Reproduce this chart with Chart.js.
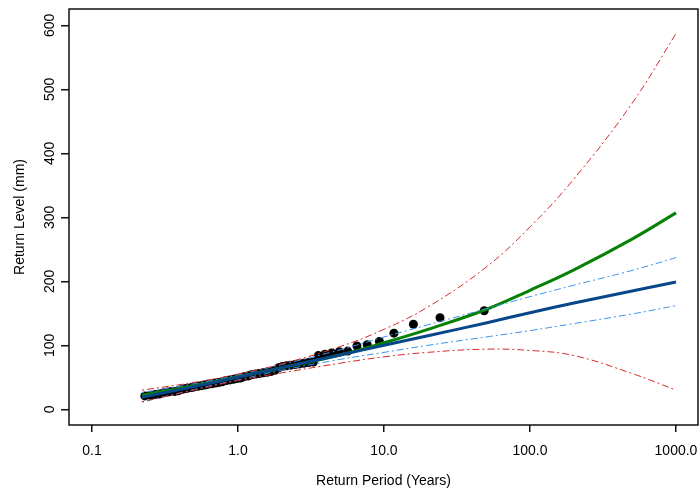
<!DOCTYPE html>
<html>
<head>
<meta charset="utf-8">
<script src="https://cdn.jsdelivr.net/npm/chart.js@4/dist/chart.umd.min.js"></script>
<style>
  body { margin: 0; background: #fff; }
  canvas { display: block; }
</style>
</head>
<body>
<canvas id="chart" width="700" height="494"></canvas>
<script>
// return periods (years) where the fitted curves were read
const periodGrid = [0.22, 0.5, 1, 2, 5, 10, 20, 50, 100, 200, 500, 1000];
// Gumbel fit and its confidence band
const gumbelLevel = [19, 35.5, 50.3, 65.2, 85, 100, 115, 135, 151, 166, 185, 199];
const gumbelUpper = [26, 40, 54, 70, 93, 113, 132, 157, 176, 194, 217, 237];
const gumbelLower = [11, 31, 46, 61, 78, 89, 100, 113, 123, 134, 149, 162];
// GEV fit and its confidence band
const gevLevel = [22, 37, 51, 65, 85, 104, 125, 156, 186, 218, 266, 307];
const gevUpper = [30, 42, 55, 71, 98, 125, 160, 222, 285, 360, 478, 587];
const gevLower = [12, 30, 45, 57, 72, 82, 89, 94, 92, 84, 56, 30];

// observed events (plotting positions)
const obsPeriod = [0.23, 0.25, 0.27, 0.29, 0.31, 0.33, 0.35, 0.37, 0.39, 0.41, 0.43, 0.45, 0.48, 0.50,
  0.53, 0.56, 0.59, 0.62, 0.66, 0.70, 0.74, 0.78, 0.83, 0.88, 0.93, 0.98, 1.04, 1.10, 1.17, 1.24,
  1.32, 1.40, 1.49, 1.58, 1.68, 1.79, 1.90, 2.02, 2.15, 2.30, 2.46, 2.63, 2.82, 3.04, 3.28,
  3.55, 3.94, 4.38, 4.94, 5.64, 6.53, 7.68, 9.3, 11.7, 15.9, 24.2, 48.6];
const obsLevel = [21, 22, 23, 24, 26, 27, 28, 28, 29, 31, 32, 33, 34, 35,
  36, 37, 38, 39, 40, 41, 42, 43, 45, 46, 47, 48, 49, 51, 52, 54,
  55, 56, 57, 58, 59, 61, 65, 67, 68, 69, 70, 71, 72, 73, 74,
  84, 86, 88, 90, 91, 99, 101, 106, 119, 133, 143, 154];

const xTicks = [0.1, 1, 10, 100, 1000];
const xTickLabels = ['0.1', '1.0', '10.0', '100.0', '1000.0'];
const yTicks = [0, 100, 200, 300, 400, 500, 600];
const xTitle = 'Return Period (Years)';
const yTitle = 'Return Level (mm)';

const FONT = '14px "Liberation Sans", Arial, sans-serif';

function pairs(xs, ys) {
    return xs.map((x, i) => ({ x: x, y: ys[i] }));
}

function curve(values, color, width, dash) {
    return {
        type: 'line',
        data: pairs(periodGrid, values),
        borderColor: color,
        borderWidth: width,
        borderDash: dash || [],
        pointRadius: 0,
        fill: false,
        tension: 0.4
    };
}

// 座標軸文字與外框
const axisText = {
    id: 'axisText',
    afterDraw(chart) {
        const ctx = chart.ctx;
        const area = chart.chartArea;
        const xs = chart.scales.x;
        const ys = chart.scales.y;
        ctx.save();
        ctx.strokeStyle = '#111';
        ctx.lineWidth = 1.5;
        ctx.strokeRect(area.left, area.top, area.right - area.left, area.bottom - area.top);

        ctx.fillStyle = '#000';
        ctx.font = FONT;
        ctx.textAlign = 'center';
        ctx.textBaseline = 'alphabetic';
        xTicks.forEach((v, i) => {
            ctx.fillText(xTickLabels[i], xs.getPixelForValue(v), 455);
        });
        ctx.fillText(xTitle, (area.left + area.right) / 2, 485);

        yTicks.forEach(v => {
            ctx.save();
            ctx.translate(53.5, ys.getPixelForValue(v));
            ctx.rotate(-Math.PI / 2);
            ctx.fillText(String(v), 0, 0);
            ctx.restore();
        });
        ctx.save();
        ctx.translate(23.5, (area.top + area.bottom) / 2);
        ctx.rotate(-Math.PI / 2);
        ctx.fillText(yTitle, 0, 0);
        ctx.restore();
        ctx.restore();
    }
};

new Chart(document.getElementById('chart'), {
    type: 'scatter',
    data: {
        datasets: [
            curve(gevUpper, '#d42a2a', 1, [2, 3, 7, 3]),
            curve(gevLower, '#d42a2a', 1, [2, 3, 7, 3]),
            curve(gumbelUpper, '#3d94ee', 1, [2, 3, 7, 3]),
            curve(gumbelLower, '#3d94ee', 1, [2, 3, 7, 3]),
            curve(gumbelLevel, '#08468a', 3),
            curve(gevLevel, '#058205', 3),
            {
                type: 'scatter',
                data: pairs(obsPeriod, obsLevel),
                backgroundColor: '#000',
                borderColor: '#000',
                pointRadius: 4.5,
                borderWidth: 0
            }
        ]
    },
    options: {
        responsive: false,
        devicePixelRatio: 1,
        animation: false,
        layout: { autoPadding: false, padding: { top: 9, right: 2, left: 0, bottom: 0 } },
        plugins: {
            legend: { display: false },
            tooltip: { enabled: false }
        },
        scales: {
            x: {
                type: 'logarithmic',
                min: 0.0696,
                max: 1415,
                afterBuildTicks: scale => { scale.ticks = xTicks.map(v => ({ value: v })); },
                afterFit: scale => { scale.height = 69; },
                ticks: { display: false },
                grid: { drawOnChartArea: false, drawTicks: true, tickLength: 7, color: '#111', lineWidth: 1.5 },
                border: { display: false }
            },
            y: {
                type: 'linear',
                min: -24.5,
                max: 625.5,
                afterBuildTicks: scale => { scale.ticks = yTicks.map(v => ({ value: v })); },
                afterFit: scale => { scale.width = 69; },
                ticks: { display: false },
                grid: { drawOnChartArea: false, drawTicks: true, tickLength: 8, color: '#111', lineWidth: 1.5 },
                border: { display: false }
            }
        }
    },
    plugins: [axisText]
});
</script>
</body>
</html>
